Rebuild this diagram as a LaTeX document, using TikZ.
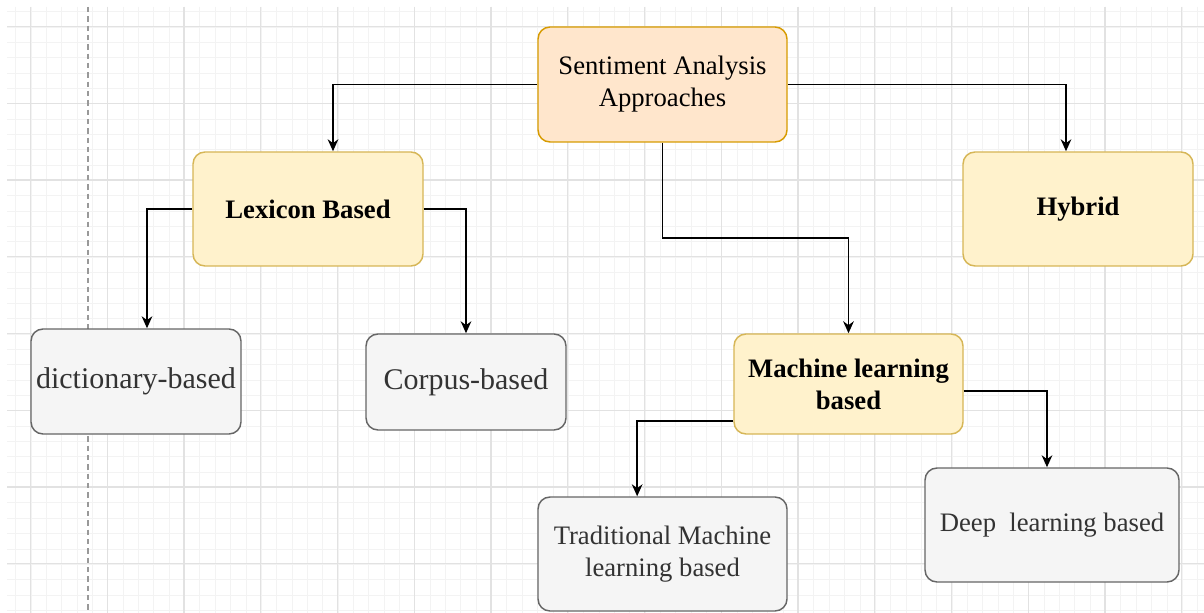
\documentclass[tikz,border=0pt]{standalone}
\usepackage{fontspec}
\setmainfont{Liberation Serif}
\usetikzlibrary{arrows.meta}

\definecolor{gridminor}{HTML}{F3F3F3}
\definecolor{gridmajor}{HTML}{E2E2E2}
\definecolor{rootfill}{HTML}{FFE6CC}
\definecolor{rootline}{HTML}{D79B00}
\definecolor{mainfill}{HTML}{FFF2CC}
\definecolor{mainline}{HTML}{D6B656}
\definecolor{leaffill}{HTML}{F5F5F5}
\definecolor{leafline}{HTML}{666666}
\definecolor{leaftext}{HTML}{333333}

\tikzset{
  box/.style={rounded corners=9pt, line width=1.1pt, align=center, inner sep=2pt},
  rootbox/.style={box, draw=rootline, fill=rootfill, font=\fontsize{20}{24}\selectfont},
  mainbox/.style={box, draw=mainline, fill=mainfill, font=\fontsize{20}{24}\selectfont\bfseries},
  leafbox/.style={box, draw=leafline, fill=leaffill, text=leaftext, font=\fontsize{20}{24}\selectfont},
  link/.style={line width=1.3pt, -{Stealth[length=9pt,width=8pt]}},
}

\begin{document}
\begin{tikzpicture}[x=0.75pt,y=-0.75pt]
\useasboundingbox (0,0) rectangle (1204,613);
\fill[white] (0,0) rectangle (1204,613);

% background grid
\foreach \i in {0,...,78} {
  \draw[gridminor, line width=0.6pt] ({15.65+15.35*\i},7) -- ({15.65+15.35*\i},613);
}
\foreach \i in {0,...,40} {
  \draw[gridminor, line width=0.6pt] (7,{11.65+15.35*\i}) -- (1204,{11.65+15.35*\i});
}
\foreach \i in {0,...,15} {
  \draw[gridmajor, line width=0.9pt] ({30.5+76.75*\i},7) -- ({30.5+76.75*\i},613);
}
\foreach \i in {0,...,7} {
  \draw[gridmajor, line width=0.9pt] (7,{26.5+76.75*\i}) -- (1204,{26.5+76.75*\i});
}
\draw[gray!80, dash pattern=on 4pt off 3pt, line width=0.8pt] (88,7) -- (88,613);

% nodes
\node[rootbox, minimum width=186.75pt, minimum height=86.25pt] (root) at (662.5,84.5) {Sentiment Analysis\\Approaches};
\node[mainbox, minimum width=172.5pt, minimum height=85.5pt] (lex) at (308,209) {Lexicon Based};
\node[mainbox, minimum width=172.5pt, minimum height=85.5pt] (hyb) at (1078,209) {Hybrid};
\node[mainbox, minimum width=171.75pt, minimum height=75pt] (ml) at (848.5,384) {Machine learning\\based};
\node[leafbox, minimum width=157.5pt, minimum height=78.75pt, font=\fontsize{22.5}{27}\selectfont] (dict) at (136,381.5) {dictionary-based};
\node[leafbox, minimum width=150pt, minimum height=72pt, font=\fontsize{22.5}{27}\selectfont] (corpus) at (466,382) {Corpus-based};
\node[leafbox, minimum width=186.75pt, minimum height=85.5pt] (trad) at (662.5,554) {Traditional Machine\\learning based};
\node[leafbox, minimum width=190.5pt, minimum height=85.5pt] (deep) at (1052,525) {Deep\ \ learning based};

% connectors
\draw[link] (root.west) -| ([xshift=18.75pt]lex.north);
\draw[link] (root.east) -| ([xshift=-9pt]hyb.north);
\draw[link] (root.south) -- ++(0,95) -| (ml.north);
\draw[link] (lex.west) -| ([xshift=8.25pt]dict.north);
\draw[link] (lex.east) -| (corpus.north);
\draw[link] ([yshift=-27.75pt]ml.west) -| ([xshift=-19pt]trad.north);
\draw[link] ([yshift=-5.25pt]ml.east) -| ([xshift=-3.75pt]deep.north);
\end{tikzpicture}
\end{document}
